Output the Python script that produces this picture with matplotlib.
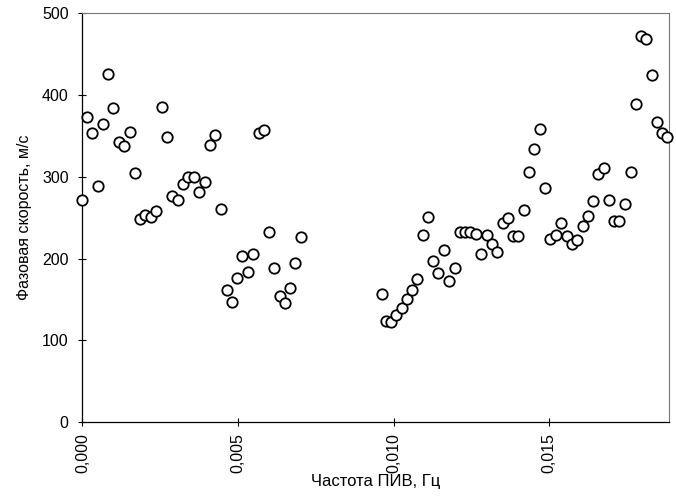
import numpy as np
import matplotlib.pyplot as plt
from matplotlib.ticker import FuncFormatter

plt.rcParams['font.family'] = ['Liberation Sans', 'DejaVu Sans']

# frequency, mHz
freq_left = [0.000, 0.135, 0.305, 0.489, 0.650, 0.830, 0.990, 1.164, 1.344, 1.518,
             1.698, 1.849, 2.019, 2.193, 2.373, 2.547, 2.707, 2.887, 3.061, 3.232,
             3.402, 3.576, 3.756, 3.949, 4.109, 4.270, 4.453, 4.637, 4.807, 4.977,
             5.138, 5.312, 5.473, 5.666, 5.836, 5.997, 6.167, 6.350, 6.521, 6.682,
             6.842, 7.035]
speed_left = [272, 373, 354, 289, 364, 426, 384, 343, 338, 355,
              305, 248, 253, 251, 258, 385, 349, 277, 272, 291,
              300, 300, 281, 294, 339, 351, 261, 162, 147, 176,
              203, 184, 206, 353, 357, 233, 188, 154, 145, 164,
              195, 226]

freq_right = [9.621, 9.749, 9.920, 10.090, 10.264, 10.424, 10.605, 10.765, 10.949, 11.119,
              11.280, 11.441, 11.633, 11.794, 11.968, 12.138, 12.309, 12.460, 12.653, 12.823,
              12.997, 13.167, 13.338, 13.511, 13.682, 13.852, 14.013, 14.186, 14.367, 14.527,
              14.701, 14.871, 15.042, 15.225, 15.386, 15.579, 15.730, 15.900, 16.084, 16.254,
              16.405, 16.585, 16.759, 16.929, 17.068, 17.260, 17.444, 17.627, 17.775, 17.936,
              18.109, 18.302, 18.450, 18.624, 18.785]
speed_right = [157, 123, 122, 131, 140, 151, 162, 175, 229, 251,
               197, 182, 211, 172, 188, 232, 233, 233, 230, 206,
               229, 218, 208, 244, 249, 228, 227, 259, 306, 334,
               358, 286, 224, 229, 244, 228, 218, 223, 240, 252,
               270, 304, 311, 271, 246, 246, 267, 306, 389, 472,
               469, 424, 367, 354, 349]

x = np.array(freq_left + freq_right) / 1000.0
y = np.array(speed_left + speed_right)

fig = plt.figure(figsize=(6.76, 5.04), dpi=100)
ax = fig.add_axes([0.122, 0.1627, 0.8676, 0.8109])

ax.plot(x, y, 'o', markersize=7.5, markerfacecolor='white',
        markeredgecolor='black', markeredgewidth=1.3, clip_on=False, zorder=3)

ax.set_xlim(0, 0.01885)
ax.set_ylim(0, 500)
ax.set_xticks([0.0, 0.005, 0.010, 0.015])
ax.set_yticks([0, 100, 200, 300, 400, 500])
ax.xaxis.set_major_formatter(FuncFormatter(lambda v, p: f'{v:.3f}'.replace('.', ',')))
ax.tick_params(axis='x', labelrotation=90, direction='inout', length=6, width=0.8,
               labelsize=11.5, pad=5)
ax.tick_params(axis='y', direction='inout', length=6, width=0.8, labelsize=11.5, pad=7)

for side in ['top', 'right']:
    ax.spines[side].set_color('#777777')
    ax.spines[side].set_linewidth(0.8)
for side in ['left', 'bottom']:
    ax.spines[side].set_color('black')
    ax.spines[side].set_linewidth(0.9)

ax.set_xlabel('Частота ПИВ, Гц', fontsize=12, labelpad=1)
ax.set_ylabel('Фазовая скорость, м/с', fontsize=11.5, labelpad=7)

fig.savefig('out.png', dpi=100)
